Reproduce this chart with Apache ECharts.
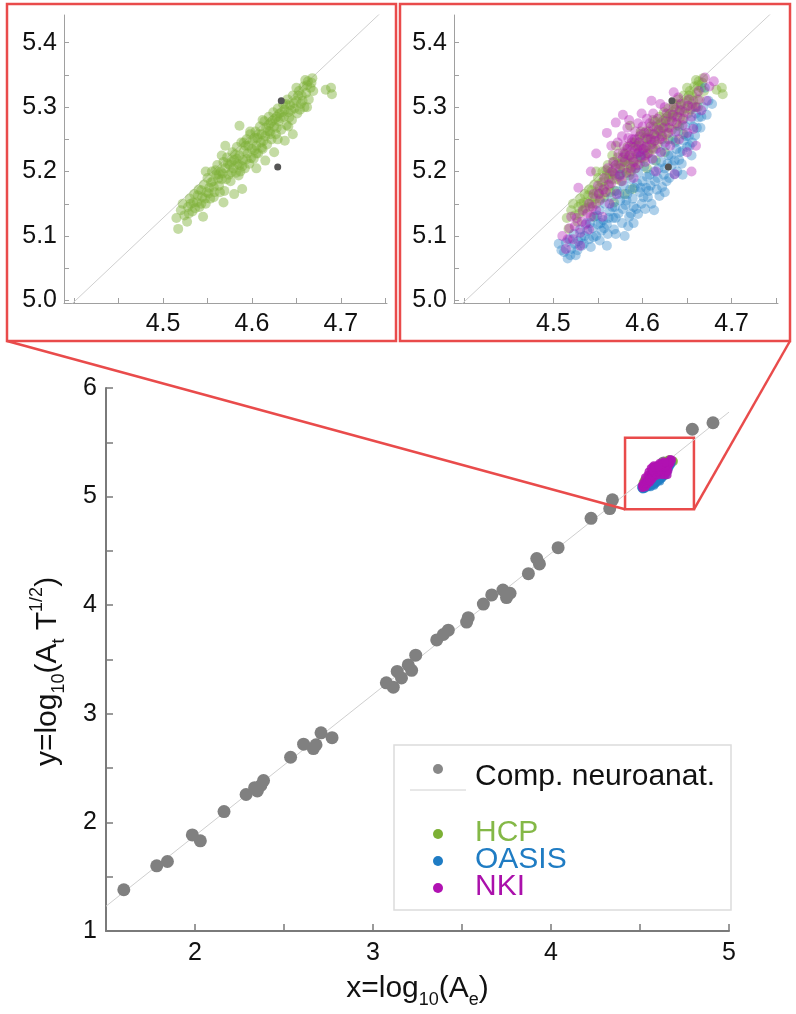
<!DOCTYPE html>
<html><head><meta charset="utf-8">
<script src="https://cdn.jsdelivr.net/npm/echarts@6/dist/echarts.min.js"></script>
<style>html,body{margin:0;padding:0;background:#fff}#c{width:796px;height:1014px}</style>
</head><body><div id="c"></div>
<script>
// ---------- DATA ----------
const compNeuro = [[1.60,1.38],[1.785,1.60],[1.845,1.64],[1.985,1.885],[2.03,1.83],[2.163,2.10],[2.287,2.257],[2.335,2.32],[2.35,2.29],[2.37,2.34],[2.385,2.385],[2.537,2.60],[2.61,2.72],[2.665,2.68],[2.68,2.715],[2.708,2.825],[2.77,2.78],[3.075,3.285],[3.114,3.245],[3.136,3.39],[3.16,3.33],[3.198,3.45],[3.217,3.40],[3.24,3.54],[3.358,3.68],[3.395,3.73],[3.423,3.77],[3.526,3.845],[3.535,3.885],[3.62,4.01],[3.667,4.095],[3.73,4.14],[3.77,4.11],[3.75,4.07],[3.873,4.29],[3.92,4.43],[3.935,4.38],[4.04,4.53],[4.225,4.80],[4.33,4.89],[4.345,4.97],[4.633,5.31],[4.629,5.207],[4.794,5.62],[4.91,5.68]];
const hcp = [[4.517,5.111],[4.515,5.128],[4.520,5.140],[4.524,5.132],[4.522,5.150],[4.528,5.145],[4.530,5.158],[4.533,5.138],[4.535,5.165],[4.538,5.152],[4.540,5.172],[4.541,5.145],[4.544,5.160],[4.546,5.180],[4.548,5.150],[4.549,5.168],[4.550,5.190],[4.552,5.175],[4.553,5.158],[4.555,5.200],
[4.556,5.185],[4.558,5.168],[4.560,5.195],[4.561,5.210],[4.563,5.178],[4.565,5.200],[4.566,5.188],[4.568,5.215],[4.569,5.170],[4.570,5.205],[4.572,5.222],[4.574,5.195],[4.575,5.210],[4.576,5.185],[4.578,5.230],[4.579,5.205],[4.580,5.218],[4.582,5.198],[4.583,5.238],[4.584,5.212],[4.586,5.225],[4.587,5.200],[4.588,5.245],[4.590,5.218],[4.591,5.232],[4.592,5.205],[4.594,5.250],[4.595,5.228],[4.596,5.240],[4.597,5.212],[4.598,5.258],[4.600,5.235],
[4.601,5.248],[4.602,5.220],[4.604,5.262],[4.605,5.240],[4.606,5.252],[4.607,5.228],[4.609,5.270],[4.610,5.245],[4.611,5.258],[4.612,5.235],[4.614,5.278],[4.615,5.255],[4.616,5.268],[4.617,5.242],[4.619,5.285],[4.620,5.262],[4.621,5.275],[4.622,5.250],[4.624,5.292],[4.625,5.270],[4.626,5.282],[4.627,5.258],[4.629,5.298],[4.630,5.278],[4.631,5.290],[4.633,5.265],[4.635,5.305],[4.636,5.285],[4.637,5.296],[4.639,5.272],[4.640,5.312],[4.641,5.292],[4.643,5.303],[4.645,5.280],[4.646,5.318],[4.648,5.298],[4.650,5.310],
[4.651,5.290],[4.653,5.325],[4.655,5.305],[4.656,5.318],[4.658,5.332],[4.659,5.300],[4.661,5.322],[4.663,5.340],[4.664,5.312],[4.666,5.330],[4.668,5.345],[4.669,5.325],
[4.683,5.327],[4.689,5.330],[4.690,5.320],[4.586,5.271],[4.589,5.173],[4.615,5.217],[4.568,5.152],[4.646,5.258],[4.662,5.300],[4.637,5.248],[4.545,5.130],[4.580,5.165],[4.548,5.200],[4.570,5.240],[4.650,5.330],[4.605,5.205],[4.625,5.230],
[4.527,5.122],[4.531,5.150],[4.536,5.143],[4.539,5.163],[4.543,5.171],[4.547,5.158],[4.551,5.166],[4.554,5.183],[4.557,5.176],[4.559,5.202],[4.562,5.189],[4.564,5.168],[4.567,5.197],[4.571,5.188],[4.573,5.212],[4.577,5.199],[4.581,5.227],[4.585,5.194],[4.589,5.208],[4.593,5.240],[4.599,5.221],[4.603,5.233],[4.608,5.258],[4.613,5.248],[4.618,5.263],[4.623,5.279],[4.628,5.268],[4.632,5.283],[4.638,5.305],[4.642,5.284],[4.647,5.306],[4.652,5.318],[4.657,5.310],[4.662,5.334],[4.667,5.338],[4.660,5.342],[4.654,5.296],[4.644,5.295],[4.634,5.292],[4.621,5.258],[4.611,5.237],[4.594,5.219],[4.583,5.220],[4.577,5.215],[4.563,5.196],[4.557,5.160],[4.543,5.150],[4.534,5.152],[4.529,5.135],[4.603,5.252],[4.619,5.272],[4.628,5.285],[4.591,5.245],[4.566,5.225],[4.598,5.262],[4.612,5.280],[4.641,5.270],[4.629,5.250],[4.605,5.228],[4.586,5.210]];
const oasis = [[4.506,5.088],[4.512,5.075],[4.516,5.065],[4.518,5.095],[4.520,5.080],[4.523,5.103],[4.525,5.070],[4.528,5.092],[4.530,5.110],[4.532,5.085],[4.535,5.100],[4.537,5.120],[4.540,5.095],[4.542,5.083],[4.544,5.112],[4.546,5.130],[4.548,5.100],[4.550,5.118],
[4.552,5.140],[4.554,5.108],[4.556,5.125],[4.558,5.150],[4.560,5.118],[4.561,5.103],[4.563,5.138],[4.565,5.160],[4.567,5.128],[4.569,5.145],[4.571,5.170],[4.573,5.135],[4.575,5.155],[4.577,5.120],[4.579,5.178],[4.581,5.148],[4.583,5.165],[4.585,5.130],[4.587,5.188],[4.589,5.158],[4.591,5.175],[4.593,5.142],[4.595,5.198],[4.597,5.168],[4.599,5.150],[4.600,5.185],
[4.602,5.208],[4.604,5.175],[4.606,5.160],[4.608,5.195],[4.610,5.150],[4.612,5.218],[4.614,5.185],[4.616,5.172],[4.618,5.205],[4.620,5.230],[4.622,5.176],[4.624,5.195],[4.626,5.240],[4.628,5.212],[4.630,5.190],[4.632,5.225],[4.634,5.250],[4.636,5.196],[4.636,5.217],[4.638,5.235],[4.640,5.262],[4.642,5.230],[4.644,5.212],[4.646,5.248],[4.648,5.270],[4.650,5.238],[4.652,5.255],[4.654,5.280],[4.656,5.245],[4.659,5.256],[4.660,5.290],[4.663,5.284],[4.665,5.268],[4.668,5.300],[4.670,5.330],[4.672,5.288],[4.674,5.310],[4.678,5.305],
[4.613,5.140],[4.625,5.168],[4.580,5.100],[4.560,5.085],[4.590,5.120],[4.645,5.195],[4.655,5.225],[4.598,5.225],[4.575,5.195],[4.595,5.134],[4.552,5.093],[4.570,5.103],
[4.509,5.078],[4.514,5.090],[4.519,5.070],[4.524,5.088],[4.527,5.078],[4.531,5.098],[4.534,5.088],[4.538,5.108],[4.541,5.120],[4.545,5.098],[4.549,5.132],[4.553,5.120],[4.557,5.112],[4.562,5.128],[4.566,5.145],[4.570,5.128],[4.574,5.165],[4.578,5.142],[4.582,5.155],[4.586,5.172],[4.590,5.145],[4.594,5.182],[4.598,5.175],[4.601,5.160],[4.605,5.192],[4.609,5.178],[4.613,5.200],[4.617,5.190],[4.621,5.215],[4.625,5.205],[4.629,5.225],[4.633,5.210],[4.637,5.245],[4.641,5.218],[4.645,5.232],[4.649,5.255],[4.653,5.240],[4.657,5.270],[4.661,5.268],[4.666,5.285],[4.584,5.115],[4.568,5.110],[4.603,5.142],[4.619,5.162],[4.639,5.200],[4.587,5.135],[4.607,5.170],[4.627,5.185]];
const nki = [[4.510,5.100],[4.514,5.080],[4.518,5.112],[4.522,5.095],[4.526,5.128],[4.530,5.105],[4.533,5.140],[4.536,5.118],[4.540,5.150],[4.542,5.130],[4.545,5.165],[4.548,5.140],[4.550,5.178],[4.552,5.155],[4.555,5.130],
[4.557,5.190],[4.559,5.168],[4.561,5.205],[4.563,5.150],[4.565,5.182],[4.567,5.215],[4.569,5.195],[4.571,5.165],[4.573,5.228],[4.575,5.205],[4.577,5.185],[4.579,5.240],[4.580,5.215],[4.582,5.198],[4.584,5.252],[4.585,5.225],[4.587,5.205],[4.589,5.238],[4.590,5.215],[4.592,5.262],[4.593,5.228],[4.595,5.210],[4.596,5.245],[4.598,5.222],[4.600,5.270],[4.601,5.235],[4.603,5.215],[4.605,5.250],[4.606,5.228],[4.608,5.275],[4.610,5.242],[4.611,5.220],[4.613,5.258],[4.615,5.235],[4.617,5.282],[4.619,5.250],[4.621,5.230],[4.623,5.268],[4.625,5.245],[4.627,5.290],[4.629,5.260],[4.631,5.240],[4.633,5.278],[4.635,5.300],[4.637,5.262],[4.639,5.285],[4.641,5.250],[4.643,5.305],[4.645,5.272],[4.647,5.292],[4.650,5.260],[4.652,5.312],[4.655,5.285],[4.657,5.266],[4.660,5.300],[4.663,5.325],[4.666,5.295],[4.670,5.346],[4.672,5.310],[4.675,5.332],[4.680,5.340],
[4.570,5.276],[4.585,5.280],[4.599,5.290],[4.578,5.288],[4.560,5.260],[4.548,5.228],[4.542,5.200],[4.528,5.175],[4.520,5.130],[4.636,5.196],[4.650,5.230],[4.660,5.240],[4.635,5.323],[4.620,5.305],[4.655,5.200],[4.540,5.110],[4.530,5.085],[4.610,5.310],[4.565,5.240],[4.590,5.190],[4.615,5.200],
[4.516,5.095],[4.524,5.115],[4.532,5.122],[4.538,5.135],[4.544,5.145],[4.551,5.165],[4.556,5.172],[4.562,5.180],[4.566,5.200],[4.570,5.210],[4.574,5.192],[4.578,5.222],[4.583,5.235],[4.586,5.240],[4.588,5.222],[4.591,5.250],[4.594,5.235],[4.597,5.255],[4.599,5.240],[4.602,5.260],[4.604,5.238],[4.607,5.262],[4.609,5.250],[4.612,5.270],[4.614,5.248],[4.618,5.265],[4.622,5.255],[4.626,5.278],[4.630,5.268],[4.634,5.288],[4.638,5.275],[4.642,5.295],[4.646,5.282],[4.651,5.302],[4.656,5.300],[4.662,5.312],[4.580,5.228],[4.592,5.205],[4.603,5.225],[4.596,5.230],[4.588,5.250],[4.577,5.255],[4.595,5.275],[4.612,5.290],[4.625,5.300],[4.640,5.315],[4.572,5.245],[4.583,5.268],[4.605,5.282]];
const fitLine = [[1.5,1.228],[5.0,5.778]];
const mainXTicks = [2,2.5,3,3.5,4,4.5,5];
const mainXLabels = [2,3,4,5];
const mainYTicks = [1.5,2,2.5,3,3.5,4,4.5,5,5.5,6];
const mainYLabels = [1,2,3,4,5,6];
const insetXTicks = [4.4,4.45,4.5,4.55,4.6,4.65,4.7,4.75];
const insetXLabels = [4.5,4.6,4.7];
const insetYTicks = [5.0,5.05,5.1,5.15,5.2,5.25,5.3,5.35,5.4];
const insetYLabels = [5.0,5.1,5.2,5.3,5.4];
const zoomBox = [[4.416,5.542],[4.803,4.883]];
const legendNames = ['Comp. neuroanat.','HCP','OASIS','NKI'];

// ---------- STYLE ----------
const FF = 'Liberation Sans, Arial, Helvetica, sans-serif';
const C_HCP = '#7cb035', C_OAS = '#1f7cc4', C_NKI = '#b012b2', C_GRAY = '#808080', RED = '#e94b4b';
const chart = echarts.init(document.getElementById('c'), null, {renderer:'canvas'});

function insetX(gi){ return {type:'value', gridIndex:gi, min:4.3885, max:4.752,
  axisLine:{show:true,onZero:false,lineStyle:{color:'#a0a0a0',width:1}},
  axisTick:{show:true,inside:true,length:5,customValues:insetXTicks,lineStyle:{color:'#a0a0a0'}},
  axisLabel:{customValues:insetXLabels,formatter:v=>v.toFixed(1),fontSize:25,color:'#111',margin:9,fontFamily:FF},
  splitLine:{show:false}}; }
function insetY(gi){ return {type:'value', gridIndex:gi, min:4.996, max:5.443,
  axisLine:{show:true,onZero:false,lineStyle:{color:'#a0a0a0',width:1}},
  axisTick:{show:true,inside:true,length:5,customValues:insetYTicks,lineStyle:{color:'#a0a0a0'}},
  axisLabel:{customValues:insetYLabels,formatter:v=>v.toFixed(1),fontSize:25,color:'#111',margin:7,fontFamily:FF},
  splitLine:{show:false}}; }
const richName = {
  m:{fontSize:30,fontFamily:FF,color:'#111',lineHeight:40,verticalAlign:'middle'},
  s:{fontSize:18,fontFamily:FF,color:'#111',lineHeight:18,verticalAlign:'bottom'},
  p:{fontSize:18,fontFamily:FF,color:'#111',lineHeight:18,verticalAlign:'top'}
};
function lineS(i){ return {type:'line',xAxisIndex:i,yAxisIndex:i,data:fitLine,showSymbol:false,silent:true,clip:true,
  lineStyle:{color:'#cfcfcf',width:1},z:1}; }
function sc(i,data,color,size,op,name){ return {type:'scatter',name:name,xAxisIndex:i,yAxisIndex:i,data:data,symbolSize:size,silent:true,
  itemStyle:{color:color,opacity:op},z:2}; }

const option = {
  animation:false,
  backgroundColor:'#fff',
  grid:[
    {left:64,top:15,width:323,height:288},
    {left:454,top:15,width:324,height:288},
    {left:106,top:388,width:623,height:546}
  ],
  xAxis:[insetX(0),insetX(1),{
    type:'value',gridIndex:2,min:1.5,max:5,
    name:'{m|x=log}{s|10}{m|(A}{s|e}{m|)}',nameLocation:'middle',nameGap:38,nameMoveOverlap:false,
    nameTextStyle:{rich:richName},
    axisLine:{show:true,onZero:false,lineStyle:{color:'#7a7a7a',width:2}},
    axisTick:{show:true,inside:true,length:7,customValues:mainXTicks,lineStyle:{color:'#7a7a7a',width:1.5}},
    axisLabel:{customValues:mainXLabels,fontSize:25,color:'#111',margin:10,fontFamily:FF},
    splitLine:{show:false}}],
  yAxis:[insetY(0),insetY(1),{
    type:'value',gridIndex:2,min:1,max:6,
    name:'{m|y=log}{s|10}{m|(A}{s|t}{m| T}{p|1/2}{m|)}',nameLocation:'middle',nameGap:38,nameRotate:90,nameMoveOverlap:false,
    nameTextStyle:{rich:richName,padding:[0,24,0,0]},
    axisLine:{show:true,onZero:false,lineStyle:{color:'#7a7a7a',width:2}},
    axisTick:{show:true,inside:true,length:7,customValues:mainYTicks,lineStyle:{color:'#7a7a7a',width:1.5}},
    axisLabel:{customValues:mainYLabels,fontSize:25,color:'#111',margin:9,fontFamily:FF},
    splitLine:{show:false}}],
  series:[
    lineS(0), sc(0,hcp,C_HCP,10,0.45,'HCP'), sc(0,compNeuro,'#555',7,1,'Comp. neuroanat.'),
    lineS(1), sc(1,hcp,C_HCP,10,0.42,'HCP'), sc(1,oasis,C_OAS,10,0.36,'OASIS'), sc(1,nki,C_NKI,10,0.36,'NKI'), sc(1,compNeuro,'#555',7,1,'Comp. neuroanat.'),
    lineS(2), sc(2,compNeuro,C_GRAY,13,1,'Comp. neuroanat.'), sc(2,hcp,C_HCP,8,0.7,'HCP'), sc(2,oasis,C_OAS,8,0.7,'OASIS'),
    Object.assign(sc(2,nki,C_NKI,8,0.85,'NKI'),{markArea:{silent:true,itemStyle:{color:'rgba(0,0,0,0)',borderColor:RED,borderWidth:2.5},
      data:[[{coord:zoomBox[0]},{coord:zoomBox[1]}]]}})
  ]
};
chart.setOption(option);

const bl = chart.convertToPixel({xAxisIndex:2,yAxisIndex:2},[zoomBox[0][0],zoomBox[1][1]]);
const br = chart.convertToPixel({xAxisIndex:2,yAxisIndex:2},[zoomBox[1][0],zoomBox[1][1]]);
const legColors = ['#111','#84b847','#1f7cc3','#aa10ab'];
const dotColors = ['#888',C_HCP,C_OAS,C_NKI];
const legY = [777,833,860,887];
const graphic = [
  {type:'rect',z:100,shape:{x:7,y:4,width:389,height:337},style:{fill:'none',stroke:RED,lineWidth:2.5}},
  {type:'rect',z:100,shape:{x:400,y:4,width:390,height:337},style:{fill:'none',stroke:RED,lineWidth:2.5}},
  {type:'line',z:100,shape:{x1:7,y1:341,x2:bl[0],y2:bl[1]},style:{stroke:RED,lineWidth:2.5}},
  {type:'line',z:100,shape:{x1:790,y1:341,x2:br[0],y2:br[1]},style:{stroke:RED,lineWidth:2.5}},
  {type:'rect',z:100,shape:{x:394,y:745,width:337,height:165},style:{fill:'#fff',stroke:'#dcdcdc',lineWidth:1.5}},
  {type:'line',z:101,shape:{x1:410,y1:790,x2:466,y2:790},style:{stroke:'#d0d0d0',lineWidth:1}}
];
legendNames.forEach((n,i)=>{
  graphic.push({type:'circle',z:101,shape:{cx:438,cy:i===0?769:legY[i]+1,r:5},style:{fill:dotColors[i]}});
  graphic.push({type:'text',z:101,style:{x:475,y:legY[i],text:n,fill:legColors[i],font:'30px '+FF,textVerticalAlign:'middle'}});
});
chart.setOption({graphic:graphic});
</script></body></html>
